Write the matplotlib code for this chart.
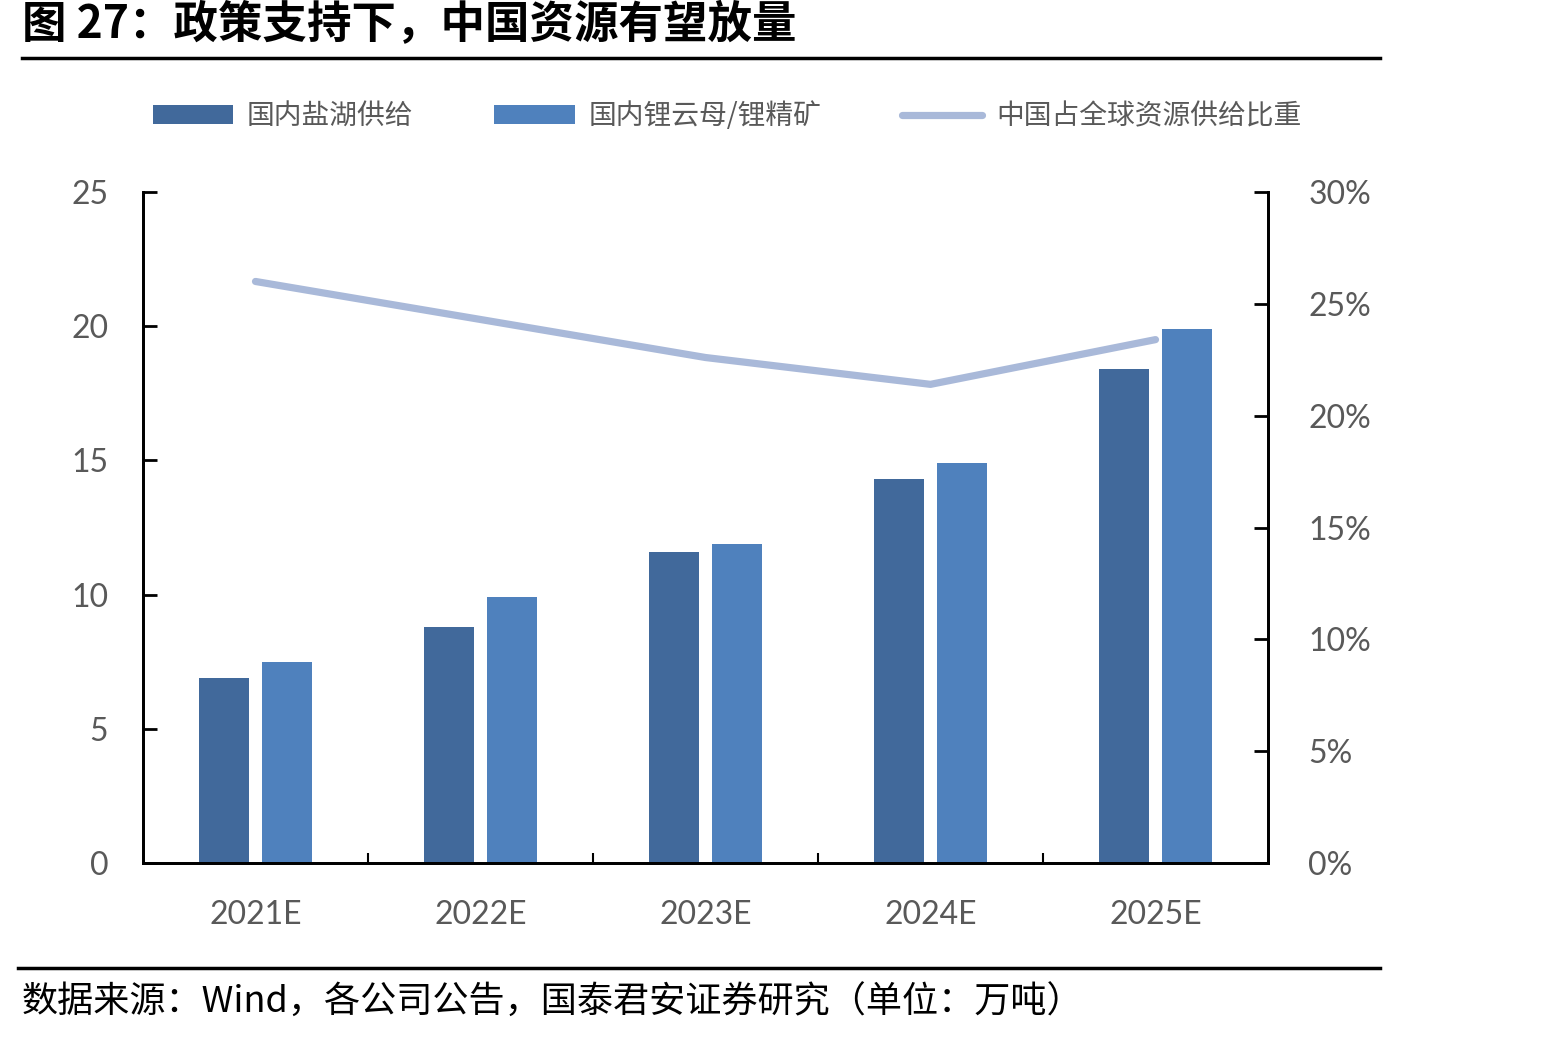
import numpy as np
import matplotlib
matplotlib.use("Agg")
import matplotlib.pyplot as plt
from matplotlib.lines import Line2D

plt.rcParams['font.family'] = ['Noto Sans CJK SC', 'DejaVu Sans']

years = ['2021E', '2022E', '2023E', '2024E', '2025E']
salt_lake = [6.9, 8.8, 11.6, 14.3, 18.4]
mica_ore = [7.5, 9.9, 11.9, 14.9, 19.9]
share_pct = [26.0, 24.3, 22.6, 21.4, 23.4]

c_dark = '#41699b'
c_light = '#4f81bd'
c_line = '#a9b9d9'
c_text = '#595959'

fig = plt.figure(figsize=(15.67, 10.38), dpi=100)
ax = fig.add_axes([143/1567, 1 - 863/1038, 1125/1567, 671/1038])
ax2 = ax.twinx()

x = np.arange(len(years))
w = 0.222
b1 = ax.bar(x - 0.142, salt_lake, w, color=c_dark, label='国内盐湖供给', zorder=2)
b2 = ax.bar(x + 0.142, mica_ore, w, color=c_light, label='国内锂云母/锂精矿', zorder=2)
ln, = ax2.plot(x, share_pct, color=c_line, lw=5.2, solid_capstyle='round',
               label='中国占全球资源供给比重')

ax.set_xlim(-0.5, 4.5)
ax.set_ylim(0, 25)
ax2.set_ylim(0, 30)
ax.set_yticks([0, 5, 10, 15, 20, 25])
ax2.set_yticks([0, 5, 10, 15, 20, 25, 30])
ax2.set_yticklabels([f'{v}%' for v in range(0, 31, 5)])

ax.set_xticks(x)
ax.set_xticklabels(years)
ax.set_xticks(np.arange(0.5, 4.5, 1), minor=True)
ax.tick_params(axis='x', which='major', length=0, pad=27)
ax.tick_params(axis='x', which='minor', direction='in', length=7, width=1.5)
ax.tick_params(axis='y', direction='in', length=10, width=2, pad=25)
ax2.tick_params(axis='y', direction='in', length=10, width=2, pad=29)
for a in (ax, ax2):
    a.spines['top'].set_visible(False)
    for s in ('left', 'right', 'bottom'):
        a.spines[s].set_linewidth(2)
    for lab in a.get_xticklabels() + a.get_yticklabels():
        lab.set_fontfamily('Lato')
        lab.set_fontsize(23)
        lab.set_color(c_text)

fig.legend(handles=[b1, b2, ln], loc='center', bbox_to_anchor=(0.464, 0.888),
           ncol=3, frameon=False, fontsize=20, labelcolor=c_text,
           handlelength=2.9, handleheight=0.65, columnspacing=2.9, handletextpad=0.5)

fig.text(22/1567, 1 - 25/1038, '图 27：政策支持下，中国资源有望放量', fontsize=32,
         fontweight='bold', va='center', ha='left', color='black')
fig.add_artist(Line2D([22/1567, 1380/1567], [1 - 58/1038] * 2, color='black', lw=2.5))
fig.add_artist(Line2D([18/1567, 1380/1567], [1 - 968/1038] * 2, color='black', lw=2.5))
fig.text(22/1567, 1 - 1003/1038, '数据来源：Wind，各公司公告，国泰君安证券研究（单位：万吨）',
         fontsize=26, va='center', ha='left', color='black')

fig.savefig('out.png', dpi=100)
